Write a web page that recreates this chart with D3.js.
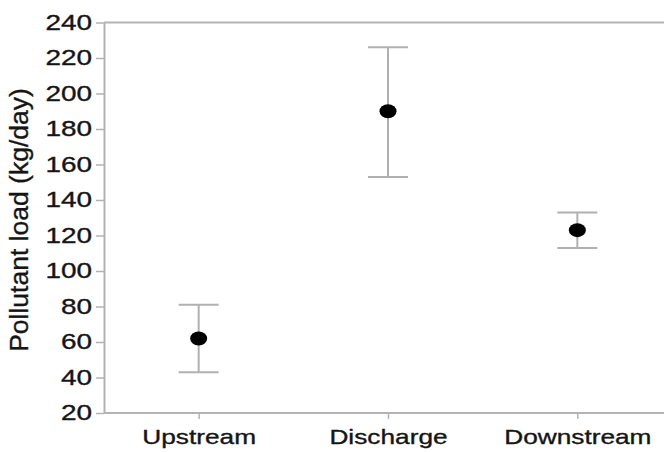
<!DOCTYPE html>
<html><head><meta charset="utf-8">
<script src="https://cdn.jsdelivr.net/npm/d3@7"></script>
<style>body{margin:0;background:#fff}svg{display:block}</style>
</head><body>
<svg id="c" width="664" height="452"></svg>
<script>
const categories = ["Upstream", "Discharge", "Downstream"];
const means = [62, 190, 123];
const upper = [81, 226, 133];
const lower = [43, 153, 113];
const yTicks = [20, 40, 60, 80, 100, 120, 140, 160, 180, 200, 220, 240];
const yTitle = "Pollutant load (kg/day)";

(function () {
const svg = d3.select("#c");
const mL = 104, mR = 672, mT = 22.5, mB = 413;
const x = d3.scalePoint().domain(categories).range([mL, mR]).padding(0.5);
const y = d3.scaleLinear().domain([20, 240]).range([mB, mT]);
const axisColor = "#b3b3b3";
const font = "Liberation Sans, Arial, sans-serif";
const textColor = "#151515";

// frame top line
svg.append("line").attr("x1", mL).attr("x2", 664).attr("y1", y(240)).attr("y2", y(240))
  .attr("stroke", axisColor).attr("stroke-width", 2);

// y axis
const ya = svg.append("g").attr("transform", `translate(${mL},0)`)
  .call(d3.axisLeft(y).tickValues(yTicks).tickSize(8).tickSizeOuter(0).tickPadding(6));
ya.select(".domain").attr("stroke", axisColor).attr("stroke-width", 2);
ya.selectAll(".tick line").attr("stroke", axisColor).attr("stroke-width", 1.5);
ya.selectAll(".tick text").attr("fill", textColor).attr("stroke", textColor).attr("stroke-width", 0.35)
  .style("font-family", font).style("font-size", "21.5px")
  .attr("x", 0).attr("text-anchor", "end")
  .attr("transform", `translate(-12,0) scale(1.3,1)`);

// x axis
const xa = svg.append("g").attr("transform", `translate(0,${mB})`)
  .call(d3.axisBottom(x).tickSize(6).tickSizeOuter(0).tickPadding(10));
xa.select(".domain").attr("stroke", axisColor).attr("stroke-width", 2)
  .attr("d", `M${mL},0H664`);
xa.selectAll(".tick line").attr("stroke", axisColor).attr("stroke-width", 1.5);
xa.selectAll(".tick text").attr("fill", textColor).attr("stroke", textColor).attr("stroke-width", 0.35)
  .style("font-family", font).style("font-size", "21px")
  .attr("transform", `scale(1.25,1)`).attr("dy", "0.71em");

// y title
svg.append("text").attr("transform", `translate(28,220) rotate(-90)`)
  .attr("text-anchor", "middle").style("font-family", font).style("font-size", "26.5px")
  .attr("fill", textColor).attr("stroke", textColor).attr("stroke-width", 0.35).text(yTitle);

// error bars
const g = svg.append("g");
categories.forEach((c, i) => {
  const cx = x(c);
  g.append("line").attr("x1", cx).attr("x2", cx).attr("y1", y(upper[i])).attr("y2", y(lower[i]))
    .attr("stroke", "#b0b0b0").attr("stroke-width", 2);
  [upper[i], lower[i]].forEach(v => {
    g.append("line").attr("x1", cx - 20).attr("x2", cx + 20).attr("y1", y(v)).attr("y2", y(v))
      .attr("stroke", "#b0b0b0").attr("stroke-width", 2);
  });
  g.append("ellipse").attr("cx", cx).attr("cy", y(means[i])).attr("rx", 8.5).attr("ry", 7).attr("fill", "#000");
});
})();
</script>
</body></html>
